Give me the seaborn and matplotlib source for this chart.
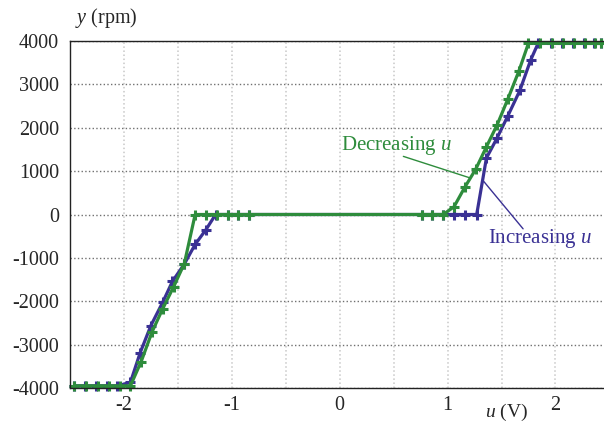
import matplotlib
matplotlib.use("Agg")
import matplotlib.pyplot as plt
from matplotlib.ticker import MultipleLocator
import pandas as pd
import seaborn as sns

# Increasing u (blue)
inc_u = [-2.46, -2.36, -2.26, -2.16, -2.06, -1.94, -1.85, -1.75, -1.64, -1.55,
         -1.44, -1.34, -1.24, -1.15, -1.04, -0.94, -0.84, 0.76, 0.86, 0.96,
         1.06, 1.16, 1.27, 1.36, 1.46, 1.56, 1.67, 1.77, 1.84, 1.96,
         2.06, 2.16, 2.26, 2.36, 2.42]
inc_y = [-3950, -3950, -3950, -3950, -3950, -3870, -3190, -2560, -2020, -1540,
         -1140, -690, -350, 0, 0, 0, 0, 0, 0, 0,
         0, 0, 0, 1300, 1770, 2280, 2860, 3560, 3950, 3950,
         3950, 3950, 3950, 3950, 3950]

# Decreasing u (green)
dec_u = [2.42, 2.37, 2.27, 2.17, 2.07, 1.97, 1.86, 1.75, 1.66, 1.56,
         1.46, 1.36, 1.26, 1.16, 1.06, 0.96, 0.86, 0.76, -0.84, -0.94,
         -1.04, -1.14, -1.24, -1.34, -1.44, -1.54, -1.64, -1.74, -1.84, -1.94,
         -2.04, -2.14, -2.24, -2.35, -2.46]
dec_y = [3950, 3950, 3950, 3950, 3950, 3950, 3950, 3950, 3300, 2670,
         2070, 1560, 1040, 630, 180, 0, 0, 0, 0, 0,
         0, 0, 0, 0, -1130, -1670, -2170, -2710, -3390, -3950,
         -3950, -3950, -3950, -3950, -3950]

x_ticks = [-2, -1, 0, 1, 2]
y_ticks = [-4000, -3000, -2000, -1000, 0, 1000, 2000, 3000, 4000]

BLUE = "#3a3194"
GREEN = "#2e8c3c"


def main():
    sns.set_style("white")
    plt.rcParams["font.family"] = ["Liberation Serif", "DejaVu Serif"]
    plt.rcParams["mathtext.fontset"] = "custom"
    plt.rcParams["mathtext.rm"] = "Liberation Serif"
    plt.rcParams["mathtext.it"] = "Liberation Serif:italic"
    plt.rcParams["axes.unicode_minus"] = False

    fig = plt.figure(figsize=(6.04, 4.25), dpi=100)
    ax = fig.add_axes([70 / 604, 37 / 425, 534 / 604, 347 / 425])

    inc = pd.DataFrame({"u": inc_u, "y": inc_y})
    dec = pd.DataFrame({"u": dec_u, "y": dec_y})

    for df, col in [(inc, BLUE), (dec, GREEN)]:
        sns.lineplot(data=df, x="u", y="y", sort=False, ax=ax, color=col,
                     linewidth=2.3, marker="+", markersize=7.5,
                     markeredgewidth=2.2, markeredgecolor=col, clip_on=False)

    ax.set_xlim(-2.5, 2.45)
    ax.set_ylim(-4000, 4000)
    ax.set_xticks(x_ticks)
    ax.set_yticks(y_ticks)
    ax.xaxis.set_minor_locator(MultipleLocator(0.5))
    ax.tick_params(which="both", length=0, labelsize=14.5)
    ax.tick_params(axis="x", pad=6)
    ax.tick_params(axis="y", pad=8)

    ax.set_axisbelow(True)
    ax.grid(axis="x", which="both", color="#c8c8c8", linestyle=":", linewidth=1.1)
    ax.grid(axis="y", which="major", color="#707070", linestyle=":", linewidth=1.0)

    for side in ["left", "bottom", "top"]:
        ax.spines[side].set_color("#222222")
        ax.spines[side].set_linewidth(1.0)
    ax.spines["right"].set_visible(False)

    ax.set_xlabel("")
    ax.set_ylabel("")
    ax.text(0.01, 1.066, "$y$ (rpm)", transform=ax.transAxes, fontsize=14.5,
            ha="left", va="center")
    ax.text(0.818, -0.07, "$u$ (V)", transform=ax.transAxes, fontsize=14,
            ha="center", va="center")

    # callouts
    ax.annotate("", xy=(1.20, 850), xytext=(0.59, 1340),
                arrowprops=dict(arrowstyle="-", color=GREEN, lw=1.0,
                                shrinkA=0, shrinkB=0))
    ax.text(0.525, 1580, "Decreasing $u$", color=GREEN, fontsize=15,
            ha="center", va="center")
    ax.annotate("", xy=(1.70, -330), xytext=(1.333, 770),
                arrowprops=dict(arrowstyle="-", color=BLUE, lw=1.0,
                                shrinkA=0, shrinkB=0))
    ax.text(1.858, -553, "Increasing $u$", color=BLUE, fontsize=15,
            ha="center", va="center")

    fig.savefig("out.png", dpi=100)
    plt.close(fig)


if __name__ == "__main__":
    main()
